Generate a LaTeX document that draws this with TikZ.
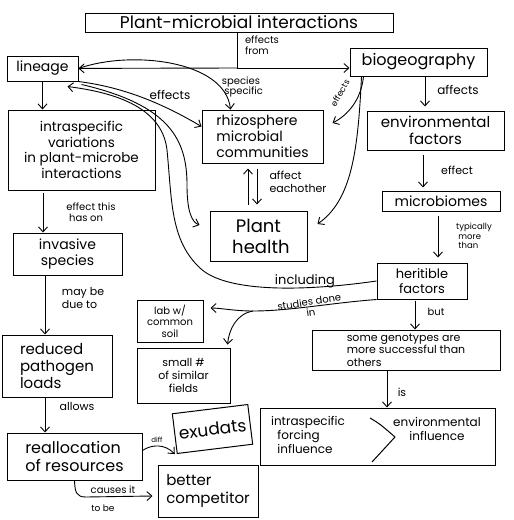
\documentclass[tikz,border=0pt]{standalone}
\usepackage{fontspec}
\setmainfont{Poppins}
\usetikzlibrary{arrows.meta,calc}
\tikzset{
  box/.style={draw, line width=1pt, inner sep=0pt, align=center},
  arr/.style={-{Straight Barb[length=5pt,width=9pt]}, line width=0.9pt},
  lbl/.style={inner sep=0pt, align=left, font=\fontsize{10}{10.5}\selectfont},
  fs/.style={font=\fontsize{#1}{\dimexpr#1pt*115/100\relax}\selectfont},
}
\begin{document}
\begin{tikzpicture}[x=1pt,y=-1pt, line width=1pt]
\useasboundingbox[fill=white] (0,0) rectangle (514,520);

% boxes
\node[box, minimum width=308pt, minimum height=19pt, fs=17] (title) at (239,22.5) {Plant-microbial interactions};
\node[box, minimum width=71pt, minimum height=25pt, fs=14] (lineage) at (42.5,68.5) {lineage};
\node[box, minimum width=137pt, minimum height=28pt, fs=16] (biogeo) at (418.5,62) {biogeography};
\node[box, minimum width=147pt, minimum height=80pt, fs=13.5] (intra) at (81.5,150) {intraspecific\\variations\\in plant-microbe\\interactions};
\node[box, minimum width=121pt, minimum height=53pt, fs=14, align=left] (rhizo) at (262.5,136.5) {rhizosphere\\microbial\\communities};
\node[box, minimum width=137pt, minimum height=39pt, fs=15] (env) at (435.5,130.5) {environmental\\factors};
\node[box, minimum width=97pt, minimum height=50pt, font=\fontsize{18}{21}\selectfont] (plant) at (258.5,236) {Plant\\\ health};
\node[box, minimum width=118pt, minimum height=20pt, fs=14] (micro) at (441,201) {microbiomes};
\node[box, minimum width=109pt, minimum height=42pt, fs=14] (invasive) at (67.5,254) {invasive\\species};
\node[box, minimum width=90pt, minimum height=36pt, fs=13] (herit) at (422,281) {heritible\\factors};
\node[box, minimum width=66pt, minimum height=42pt, fs=10] (lab) at (170,321) {lab w/\\common\\soil};
\node[box, minimum width=93pt, minimum height=55pt, fs=11] (small) at (183.5,375.5) {small \#\\of similar\\fields};
\node[box, minimum width=188pt, minimum height=40pt, fs=11, align=left] (geno) at (406,350) {some genotypes are\\more successful than\\others};
\node[box, minimum width=110pt, minimum height=62pt, fs=15, align=left] (reduced) at (57,366) {reduced\\pathogen\\loads};
\node[box, minimum width=135pt, minimum height=47pt, fs=16, align=left] (realloc) at (74.5,456.5) {reallocation\\of resources};
\node[box, minimum width=76pt, minimum height=40pt, fs=17, rotate=7] (exud) at (212.5,429) {exudats};
\node[box, minimum width=100pt, minimum height=52pt, fs=15, align=left] (better) at (208,491) {better\\competitor};
\node[box, minimum width=235pt, minimum height=57pt] (forcing) at (377.5,436.5) {};
\node[lbl, fs=12] (forcL) at (308,435) {intraspecific\\\ \ forcing\\\ \ influence};
\node[lbl, fs=12, align=center] (forcR) at (437,429) {environmental\\influence};
\draw (370,418) .. controls (380,424) .. (395,437) -- (372,462);

% connectors
\coordinate (jt) at (237,68);
\draw (jt |- title.south) -- (jt);
\draw[arr] (jt) -- (lineage);
\draw[arr] (jt) -- (biogeo.west |- jt);
\node[lbl] (effrom) at (262,45) {effects\\from};

\draw[arr] (lineage.east) .. controls (130,50) and (225,60) .. ([xshift=-32pt]rhizo.north);
\node[lbl, align=center] (spec) at (241,87) {species\\\ \ specific};

\draw[arr] (lineage.south east) .. controls (130,88) and (170,108) .. ([yshift=10pt]rhizo.west);
\node[lbl, fs=12] (eff1) at (170,95) {effects};

\draw[arr] ([xshift=3pt,yshift=-3pt]lineage.south east) .. controls (170,105) and (187,140) .. (187,185) .. controls (187,212) and (192,222) .. ([xshift=-10pt,yshift=11pt]plant.west);

\draw[arr] (herit.west) .. controls (300,292) and (225,292) .. (200,268) .. controls (170,240) and (172,200) .. (167,150) .. controls (162,105) and (110,92) .. ([xshift=25pt,yshift=-5pt]lineage.south);
\node[lbl, fs=13] (incl) at (305,281) {including};

\draw[arr] (lineage.south) -- (lineage.south |- intra.north);

\draw[arr] ([xshift=6.5pt]biogeo.south) -- ([xshift=-10.5pt,yshift=4pt]env.north);
\node[lbl, fs=12] (aff) at (458,90) {affects};

\draw[arr] ([xshift=-55pt]biogeo.south) .. controls (361,100) and (348,115) .. ([xshift=9pt,yshift=13.5pt]rhizo.east);
\node[lbl, fs=8.5, rotate=60] (eff2) at (340,93) {effects};

\draw[arr] ([xshift=-57pt]biogeo.south) .. controls (358,150) and (352,200) .. ([xshift=10pt,yshift=12pt]plant.east);

\draw[arr] ([xshift=-10.5pt,yshift=6pt]plant.north) -- ([xshift=-14.5pt,yshift=-5pt]rhizo.south);
\draw[arr] ([xshift=-5.5pt,yshift=-5pt]rhizo.south) -- ([xshift=-1.5pt,yshift=6pt]plant.north);
\node[lbl, fs=11] (each) at (298,182) {affect\\eachother};

\draw[arr] ([xshift=-12.5pt,yshift=-4pt]env.south) -- ([xshift=-18pt,yshift=3pt]micro.north);
\node[lbl, fs=11] (eff3) at (457,170) {effect};

\draw[arr] ([xshift=-3pt,yshift=-4pt]micro.south) -- ([xshift=16pt,yshift=5pt]herit.north);
\node[lbl, fs=8.5] (typ) at (474,236) {typically\\\ more\\\ than};

\coordinate (br) at (253,311);
\draw[arr] (herit.south west) .. controls (330,303) and (290,311) .. (br) .. controls (235,311) and (220,308) .. ([xshift=7pt,yshift=13pt]lab.east);
\draw[arr] (br) .. controls (236,314) and (229,330) .. ([xshift=-3pt,yshift=3pt]small.north east);
\node[lbl, rotate=9, align=center] (stud) at (310,307) {studies done\\in};

\draw[arr] ([xshift=-7pt,yshift=-1pt]herit.south) -- ([xshift=9pt]geno.north);
\node[lbl] (but) at (436,312) {but};

\draw[arr] ([xshift=-19pt]geno.south) -- ([xshift=9.5pt]forcing.north);
\node[lbl, fs=11] (is) at (402,392) {is};

\draw[arr] ([xshift=-38.5pt,yshift=-2pt]intra.south) -- ([xshift=-24.5pt]invasive.north);
\node[lbl] (effthis) at (91,212) {effect this\\\ has on};

\draw[arr] ([xshift=-22.5pt]invasive.south) -- ([xshift=-12pt]reduced.north);
\node[lbl, fs=11] (maybe) at (83,298) {may be\\due to};

\draw[arr] ([xshift=-12pt]reduced.south) -- ([xshift=-29.5pt]realloc.north);
\node[lbl, fs=11] (allows) at (77,406) {allows};

\draw[arr] ([yshift=6pt]realloc.east) .. controls (152,444) and (165,444) .. ([xshift=-2pt]exud.south west);
\node[lbl, fs=7] (diff) at (157,440) {diff};

\draw[arr] (realloc.south) .. controls (75,492) and (76,497) .. (86,497) -- ([xshift=-5pt,yshift=-5pt]better.west);
\node[lbl] (causes) at (113,490) {causes it};
\node[lbl, fs=9] (tobe) at (103,508) {to be};
\end{tikzpicture}
\end{document}
